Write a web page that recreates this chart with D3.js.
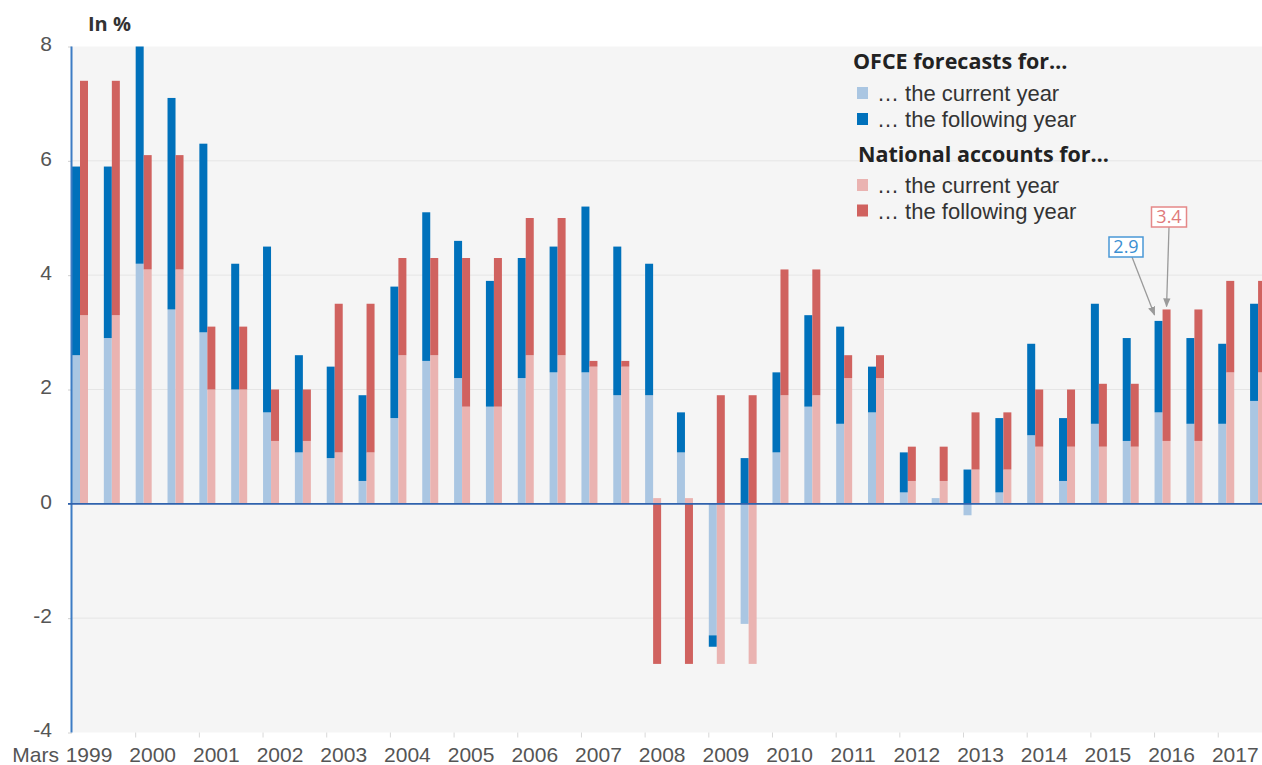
<!DOCTYPE html>
<html>
<head>
<meta charset="utf-8">
<script src="https://cdn.jsdelivr.net/npm/d3@7"></script>
<style>
  body { margin: 0; background: #fff; }
  svg { display: block; font-family: "Open Sans", sans-serif; }
</style>
</head>
<body>
<div id="chart"></div>
<script>
/// DATA

const periods = [
  "Mar 1999", "Oct 1999", "Mar 2000", "Oct 2000", "Mar 2001", "Oct 2001",
  "Mar 2002", "Oct 2002", "Mar 2003", "Oct 2003", "Mar 2004", "Oct 2004",
  "Mar 2005", "Oct 2005", "Mar 2006", "Oct 2006", "Mar 2007", "Oct 2007",
  "Mar 2008", "Oct 2008", "Mar 2009", "Oct 2009", "Mar 2010", "Oct 2010",
  "Mar 2011", "Oct 2011", "Mar 2012", "Oct 2012", "Mar 2013", "Oct 2013",
  "Mar 2014", "Oct 2014", "Mar 2015", "Oct 2015", "Mar 2016", "Oct 2016",
  "Mar 2017", "Oct 2017",
]

// OFCE forecasts, one value per forecast date
const ofceCurrent = [
  2.6, 2.9, 4.2, 3.4, 3.0, 2.0, 1.6, 0.9, 0.8, 0.4, 1.5, 2.5, 2.2, 1.7, 2.2,
  2.3, 2.3, 1.9, 1.9, 0.9, -2.3, -2.1, 0.9, 1.7, 1.4, 1.6, 0.2, 0.1, -0.2, 0.2,
  1.2, 0.4, 1.4, 1.1, 1.6, 1.4, 1.4, 1.8,
]
const ofceFollowing = [
  3.3, 3.0, 3.8, 3.7, 3.3, 2.2, 2.9, 1.7, 1.6, 1.5, 2.3, 2.6, 2.4, 2.2, 2.1,
  2.2, 2.9, 2.6, 2.3, 0.7, -0.2, 0.8, 1.4, 1.6, 1.7, 0.8, 0.7, 0.0, 0.6, 1.3,
  1.6, 1.1, 2.1, 1.8, 1.6, 1.5, 1.4, 1.7,
]

// National accounts, one value per year
const years = d3.range(1999, 2018).map(String)
const naCurrent = [
  3.3, 4.1, 2.0, 1.1, 0.9, 2.6, 1.7, 2.6, 2.4, 0.1, -2.8, 1.9, 2.2, 0.4, 0.6,
  1.0, 1.0, 1.1, 2.3,
]
const naFollowing = [
  4.1, 2.0, 1.1, 0.9, 2.6, 1.7, 2.6, 2.4, 0.1, -2.8, 1.9, 2.2, 0.4, 0.6, 1.0,
  1.0, 1.1, 2.3, 1.6,
]

const yTicks = [-4, -2, 0, 2, 4, 6, 8]

const annotations = [
  { period: "Mar 2016", source: "ofce", label: "2.9" },
  { period: "Mar 2016", source: "na", label: "3.4" },
]

/// TABLE

const yearOf = (p) => p.split(" ")[1]
const table = periods.map((p, i) => {
  const yi = years.indexOf(yearOf(p))
  return {
    period: p,
    ofce: { current: ofceCurrent[i], following: ofceFollowing[i] },
    na: { current: naCurrent[yi], following: naFollowing[yi] },
  }
})

/// SIZES

const width = 1262
const height = 765
const margins = { top: 47, right: 0, bottom: 32, left: 72 }
const step = 31.84

const colors = {
  ofce: { current: "#aac6e2", following: "#0071bb" },
  na: { current: "#eab3b1", following: "#d0625f" },
}

/// SCALES

const xScale = d3
  .scaleBand()
  .domain(periods)
  .range([margins.left, margins.left + step * periods.length])
  .padding(0)

const sourceScale = d3.scaleBand().domain(["ofce", "na"]).range([0, 16])

const yearScale = d3
  .scaleBand()
  .domain(years)
  .range([margins.left, margins.left + step * periods.length])

const yScale = d3
  .scaleLinear()
  .domain([-4, 8])
  .range([height - margins.bottom - 0.5, margins.top - 0.5])

const svg = d3
  .select("#chart")
  .append("svg")
  .attr("width", width)
  .attr("height", height)
  .attr("viewBox", [0, 0, width, height])

const defs = svg.append("defs")
defs
  .append("clipPath")
  .attr("id", "clip")
  .append("rect")
  .attr("x", margins.left)
  .attr("y", 0)
  .attr("width", width - margins.left)
  .attr("height", height)

defs
  .append("marker")
  .attr("id", "arrow")
  .attr("viewBox", "0 0 10 10")
  .attr("refX", 9)
  .attr("refY", 5)
  .attr("markerWidth", 7)
  .attr("markerHeight", 7)
  .attr("orient", "auto")
  .append("path")
  .attr("d", "M0,1 L10,5 L0,9 Z")
  .attr("fill", "#9a9a9a")

// plot background
svg
  .append("rect")
  .attr("x", margins.left)
  .attr("y", yScale(8))
  .attr("width", width - margins.left)
  .attr("height", yScale(-4) - yScale(8))
  .attr("fill", "#f5f5f5")

// gridlines
svg
  .append("g")
  .selectAll("line")
  .data(yTicks.filter((d) => d !== 0 && d !== -4 && d !== 8))
  .join("line")
  .attr("x1", margins.left)
  .attr("x2", width)
  .attr("y1", (d) => yScale(d))
  .attr("y2", (d) => yScale(d))
  .attr("stroke", "#e5e5e5")
  .attr("stroke-width", 1)

/// AXES

const yAxisGenerator = d3
  .axisLeft(yScale)
  .tickValues(yTicks)
  .tickSize(4)
  .tickPadding(16)
  .tickFormat((d) => String(d))

const yAxis = svg
  .append("g")
  .attr("transform", `translate(${margins.left},0)`)
  .call(yAxisGenerator)
yAxis.select(".domain").remove()
yAxis.selectAll(".tick line").attr("stroke", "#d0d0d0")
yAxis
  .selectAll(".tick text")
  .attr("dy", "0.2em")
  .style("font-size", "21px")
  .style("fill", "#555")

const xAxisGenerator = d3.axisBottom(yearScale).tickSize(0).tickPadding(15)

const xAxis = svg
  .append("g")
  .attr("transform", `translate(0,${yScale(-4)})`)
  .call(xAxisGenerator)
xAxis.select(".domain").remove()
xAxis
  .selectAll(".tick text")
  .attr("dx", -yearScale.bandwidth() / 2 + 17)
  .style("font-size", "21px")
  .style("fill", "#555")

// prefix for the first date
xAxis
  .append("text")
  .attr("x", yearScale("1999") + 17 - 30)
  .attr("y", 15)
  .attr("dy", "0.71em")
  .attr("text-anchor", "end")
  .style("font-size", "21px")
  .style("fill", "#555")
  .text("Mars")

// year separators
svg
  .append("g")
  .selectAll("line")
  .data(years.slice(1))
  .join("line")
  .attr("x1", (d) => yearScale(d))
  .attr("x2", (d) => yearScale(d))
  .attr("y1", yScale(-4))
  .attr("y2", yScale(-4) + 5)
  .attr("stroke", "#d8d8d8")

/// BARS

const stackGenerator = d3
  .stack()
  .keys(["current", "following"])
  .offset(d3.stackOffsetDiverging)

const bars = svg.append("g").attr("clip-path", "url(#clip)")

;["ofce", "na"].forEach((source) => {
  const stacked = stackGenerator(table.map((d) => ({ period: d.period, ...d[source] })))
  bars
    .append("g")
    .attr("class", source)
    .selectAll("g")
    .data(stacked)
    .join("g")
    .attr("fill", (s) => colors[source][s.key])
    .selectAll("rect")
    .data((s) => s)
    .join("rect")
    .attr("x", (d) => xScale(d.data.period) + sourceScale(source))
    .attr("width", sourceScale.bandwidth())
    .attr("y", (d) => yScale(Math.max(d[0], d[1])))
    .attr("height", (d) => Math.abs(yScale(d[0]) - yScale(d[1])))
})

// axis lines
svg
  .append("line")
  .attr("x1", margins.left - 0.5)
  .attr("x2", margins.left - 0.5)
  .attr("y1", yScale(8))
  .attr("y2", yScale(-4))
  .attr("stroke", "#3d7cc4")
  .attr("stroke-width", 2)

svg
  .append("line")
  .attr("x1", margins.left - 4)
  .attr("x2", width)
  .attr("y1", yScale(0))
  .attr("y2", yScale(0))
  .attr("stroke", "#2f62ad")
  .attr("stroke-width", 1.6)

svg
  .append("text")
  .attr("x", 88)
  .attr("y", 31)
  .style("font-size", "20px")
  .style("font-weight", "bold")
  .style("fill", "#333")
  .text("In %")

/// ANNOTATIONS

const boxes = [
  { cx: 1126, cy: 247, w: 34, tipDx: 0, tipDy: -6, color: "#3b8fd2", stroke: "#4a98d6" },
  { cx: 1169, cy: 217, w: 35, tipDx: 4, tipDy: -3, color: "#e07a7a", stroke: "#e58888" },
]

annotations.forEach((a, i) => {
  const b = boxes[i]
  const row = table.find((d) => d.period === a.period)
  const total = row[a.source].current + row[a.source].following
  const tipX = xScale(a.period) + sourceScale(a.source) + b.tipDx
  const tipY = yScale(total) + b.tipDy
  const g = svg.append("g")
  g.append("line")
    .attr("x1", b.cx + (i === 0 ? 6 : 0))
    .attr("y1", b.cy + 10)
    .attr("x2", tipX)
    .attr("y2", tipY)
    .attr("stroke", "#9a9a9a")
    .attr("stroke-width", 1.3)
    .attr("marker-end", "url(#arrow)")
  g.append("rect")
    .attr("x", b.cx - b.w / 2)
    .attr("y", b.cy - 10)
    .attr("width", b.w)
    .attr("height", 20)
    .attr("fill", "#fff")
    .attr("stroke", b.stroke)
    .attr("stroke-width", 1.5)
  g.append("text")
    .attr("x", b.cx)
    .attr("y", b.cy)
    .attr("dy", "0.36em")
    .attr("text-anchor", "middle")
    .style("font-size", "18px")
    .style("fill", b.color)
    .text(a.label)
})

/// LEGEND

const legendRows = [
  { type: "title", text: "OFCE forecasts for…", y: 69 },
  { type: "item", text: "… the current year", color: colors.ofce.current, y: 101 },
  { type: "item", text: "… the following year", color: colors.ofce.following, y: 127 },
  { type: "title", text: "National accounts for…", y: 162 },
  { type: "item", text: "… the current year", color: colors.na.current, y: 193 },
  { type: "item", text: "… the following year", color: colors.na.following, y: 218.5 },
]

const legend = svg.append("g")
legendRows.forEach((r) => {
  if (r.type === "title") {
    legend
      .append("text")
      .attr("x", r.text.startsWith("OFCE") ? 853 : 858)
      .attr("y", r.y)
      .style("font-size", "21.5px")
      .style("font-weight", "bold")
      .style("fill", "#222")
      .text(r.text)
  } else {
    legend
      .append("rect")
      .attr("x", 857)
      .attr("y", r.y - 14)
      .attr("width", 11)
      .attr("height", 12)
      .attr("fill", r.color)
    legend
      .append("text")
      .attr("x", 877)
      .attr("y", r.y)
      .style("font-family", "'Liberation Sans', Arial, sans-serif")
      .style("font-size", "22px")
      .style("fill", "#333")
      .text(r.text)
  }
})
</script>
</body>
</html>
